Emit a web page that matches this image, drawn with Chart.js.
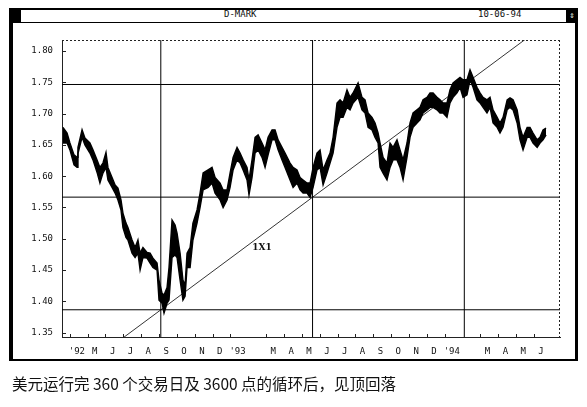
<!DOCTYPE html>
<html>
<head>
<meta charset="utf-8">
<script src="https://cdn.jsdelivr.net/npm/chart.js@4.4.1/dist/chart.umd.min.js"></script>
<style>
  body { margin: 0; background: #fff; width: 587px; height: 407px; position: relative; overflow: hidden; }
  .abs { position: absolute; }
  #frame { left: 9px; top: 8px; width: 569px; height: 353px; border: 2px solid #000; border-left-width: 4px; border-right-width: 3px; box-sizing: border-box; }
  #bar { left: 9px; top: 22px; width: 569px; height: 1px; background: #000; }
  .sq { top: 8px; width: 12px; height: 14px; background: #000; color: #fff; font: 9px "DejaVu Sans Mono"; text-align: center; line-height: 14px; }
  .ttl { top: 9px; font: 9px "DejaVu Sans Mono", monospace; color: #111; }
  #caption { left: 12px; top: 372px; font: 15.5px "Noto Sans CJK SC", sans-serif; color: #111; white-space: pre; }
  canvas { position: absolute; left: 0; top: 0; }
</style>
</head>
<body>
<div id="frame" class="abs"></div>
<div id="bar" class="abs"></div>
<div class="abs sq" style="left:9px"></div>
<div class="abs sq" style="left:566px">⇕</div>
<div class="abs ttl" style="left:224px">D-MARK</div>
<div class="abs ttl" style="left:478px">10-06-94</div>
<canvas id="chart" width="587" height="407"></canvas>
<div id="caption" class="abs">美元运行完 360 个交易日及 3600 点的循环后，见顶回落</div>
<script>
// month index, Jan 1992 = 0
const months = [2.62, 2.85, 3.01, 3.24, 3.41, 3.46, 3.69, 3.85, 4.13, 4.30, 4.53, 4.69, 4.86, 5.03, 5.14, 5.37, 5.54, 5.70, 5.87, 5.98,
  6.15, 6.26, 6.49, 6.66, 6.82, 6.94, 7.10, 7.33, 7.50, 7.66, 7.89, 8.00, 8.17, 8.28, 8.45, 8.56, 8.73, 8.90, 9.01, 9.18,
  9.34, 9.46, 9.57, 9.74, 9.90, 10.13, 10.30, 10.47, 10.75, 10.97, 11.14, 11.42, 11.59, 11.81, 11.98, 12.15, 12.37, 12.54, 12.71, 12.93,
  13.04, 13.21, 13.38, 13.55, 13.77, 13.94, 14.11, 14.33, 14.50, 14.67, 14.89, 15.06, 15.34, 15.51, 15.73, 15.90, 16.07, 16.29, 16.46, 16.63,
  16.85, 17.02, 17.19, 17.41, 17.58, 17.75, 17.97, 18.14, 18.31, 18.53, 18.70, 18.87, 19.15, 19.37, 19.54, 19.71, 19.93, 20.10, 20.27, 20.38,
  20.55, 20.77, 20.94, 21.11, 21.33, 21.50, 21.67, 21.89, 22.06, 22.23, 22.45, 22.62, 22.79, 23.01, 23.18, 23.35, 23.57, 23.74, 23.91, 24.13,
  24.30, 24.47, 24.69, 24.86, 25.03, 25.25, 25.42, 25.59, 25.81, 25.98, 26.15, 26.37, 26.54, 26.71, 26.94, 27.10, 27.27, 27.50, 27.66, 27.83,
  28.06, 28.22, 28.39, 28.62, 28.78, 28.95, 29.18, 29.34, 29.51, 29.68];
const highs = [1.678, 1.669, 1.653, 1.634, 1.630, 1.646, 1.674, 1.661, 1.653, 1.642, 1.626, 1.614, 1.621, 1.638, 1.614, 1.598, 1.586, 1.581, 1.562, 1.541,
  1.525, 1.518, 1.498, 1.486, 1.498, 1.477, 1.486, 1.478, 1.477, 1.469, 1.461, 1.434, 1.413, 1.410, 1.422, 1.454, 1.530, 1.522, 1.509, 1.477,
  1.434, 1.426, 1.477, 1.486, 1.525, 1.546, 1.573, 1.605, 1.610, 1.614, 1.598, 1.589, 1.578, 1.578, 1.605, 1.630, 1.646, 1.637, 1.626, 1.614,
  1.594, 1.626, 1.662, 1.666, 1.653, 1.642, 1.662, 1.674, 1.674, 1.658, 1.646, 1.637, 1.621, 1.614, 1.610, 1.598, 1.594, 1.589, 1.589, 1.614,
  1.637, 1.642, 1.610, 1.626, 1.637, 1.662, 1.717, 1.722, 1.717, 1.738, 1.726, 1.733, 1.749, 1.726, 1.722, 1.701, 1.694, 1.685, 1.669, 1.653,
  1.630, 1.621, 1.653, 1.646, 1.658, 1.642, 1.626, 1.653, 1.685, 1.701, 1.706, 1.710, 1.722, 1.726, 1.733, 1.733, 1.726, 1.722, 1.717, 1.717,
  1.738, 1.749, 1.754, 1.758, 1.754, 1.754, 1.770, 1.758, 1.742, 1.733, 1.726, 1.722, 1.726, 1.706, 1.694, 1.685, 1.694, 1.722, 1.725, 1.722,
  1.706, 1.678, 1.662, 1.678, 1.678, 1.669, 1.658, 1.662, 1.674, 1.677];
const lows = [1.653, 1.653, 1.642, 1.618, 1.614, 1.636, 1.662, 1.650, 1.637, 1.626, 1.606, 1.589, 1.605, 1.614, 1.594, 1.582, 1.573, 1.562, 1.546, 1.518,
  1.502, 1.498, 1.477, 1.470, 1.477, 1.450, 1.470, 1.469, 1.461, 1.454, 1.450, 1.402, 1.397, 1.381, 1.397, 1.402, 1.470, 1.474, 1.470, 1.434,
  1.402, 1.408, 1.454, 1.454, 1.498, 1.525, 1.550, 1.578, 1.582, 1.589, 1.573, 1.562, 1.550, 1.562, 1.582, 1.610, 1.626, 1.621, 1.610, 1.594,
  1.570, 1.598, 1.637, 1.642, 1.630, 1.614, 1.634, 1.658, 1.658, 1.642, 1.626, 1.614, 1.594, 1.582, 1.589, 1.578, 1.573, 1.573, 1.566, 1.582,
  1.610, 1.614, 1.586, 1.605, 1.621, 1.637, 1.678, 1.694, 1.694, 1.710, 1.706, 1.717, 1.726, 1.706, 1.701, 1.678, 1.674, 1.662, 1.653, 1.614,
  1.605, 1.594, 1.614, 1.626, 1.626, 1.614, 1.594, 1.630, 1.662, 1.678, 1.685, 1.690, 1.701, 1.706, 1.710, 1.710, 1.706, 1.701, 1.701, 1.694,
  1.717, 1.726, 1.733, 1.742, 1.726, 1.730, 1.754, 1.742, 1.722, 1.717, 1.710, 1.701, 1.710, 1.685, 1.678, 1.669, 1.678, 1.706, 1.710, 1.706,
  1.685, 1.658, 1.642, 1.662, 1.662, 1.653, 1.646, 1.653, 1.658, 1.666];

// Gann levels: 1.3865 low + 1800 / 3600 points, and the 180 / 360 trading day marks
const gannLevels = [1.3865, 1.5665, 1.7465];
const gannMonths = [8.1, 16.6, 25.1];
const oneByOne = [[2.57, 1.2693], [30.46, 1.8598]];

const yTicks = [1.35, 1.40, 1.45, 1.50, 1.55, 1.60, 1.65, 1.70, 1.75, 1.80];
const tickMonths = [3, 4, 5, 6, 7, 8, 9, 10, 11, 12, 14, 15, 16, 17, 18, 19, 20, 21, 22, 23, 24, 26, 27, 28, 29];
const tickLabels = ["'92", "M", "J", "J", "A", "S", "O", "N", "D", "'93", "M", "A", "M", "J", "J", "A", "S", "O", "N", "D", "'94", "M", "A", "M", "J"];

const X_MIN = 2.566, X_MAX = 30.46, Y_MIN = 1.343, Y_MAX = 1.8176;
const tickFont = { family: "DejaVu Sans Mono", size: 9 };

const datasets = [
  { data: months.map((m, i) => ({ x: m, y: highs[i] })), borderColor: "#000", borderWidth: 1.4, fill: false },
  { data: months.map((m, i) => ({ x: m, y: lows[i] })), borderColor: "#000", borderWidth: 1.4, fill: "-1", backgroundColor: "#000" },
];
gannLevels.forEach(v => datasets.push({ data: [{ x: X_MIN, y: v }, { x: X_MAX, y: v }], borderColor: "#000", borderWidth: 1 }));
gannMonths.forEach(m => datasets.push({ data: [{ x: m, y: Y_MIN }, { x: m, y: Y_MAX }], borderColor: "#000", borderWidth: 1 }));
datasets.push({ data: oneByOne.map(p => ({ x: p[0], y: p[1] })), borderColor: "#000", borderWidth: 0.8 });

const frame = {
  id: "frame",
  afterDraw(chart) {
    const { ctx, chartArea: a, scales } = chart;
    ctx.save();
    ctx.strokeStyle = "#222";
    ctx.lineWidth = 1;
    ctx.setLineDash([2, 2]);
    ctx.beginPath();
    ctx.moveTo(a.left, a.top + 0.5); ctx.lineTo(a.right, a.top + 0.5);
    ctx.moveTo(a.right - 0.5, a.top); ctx.lineTo(a.right - 0.5, a.bottom);
    ctx.stroke();
    ctx.setLineDash([]);
    ctx.beginPath();
    scales.y.ticks.forEach(t => {
      const y = Math.round(scales.y.getPixelForValue(t.value)) + 0.5;
      ctx.moveTo(a.left, y); ctx.lineTo(a.left + 4, y);
    });
    tickMonths.forEach(m => {
      const x = Math.round(scales.x.getPixelForValue(m)) + 0.5;
      ctx.moveTo(x, a.bottom); ctx.lineTo(x, a.bottom - 3);
    });
    ctx.stroke();
    ctx.fillStyle = "#111";
    ctx.font = "bold 9px 'DejaVu Serif'";
    ctx.textAlign = "center";
    ctx.textBaseline = "middle";
    ctx.fillText("1X1", scales.x.getPixelForValue(13.77), scales.y.getPixelForValue(1.485));
    ctx.restore();
  }
};

new Chart(document.getElementById("chart"), {
  type: "line",
  data: { datasets: datasets },
  options: {
    responsive: false,
    animation: false,
    events: [],
    elements: { point: { radius: 0 }, line: { tension: 0 } },
    layout: { padding: { left: 0, right: 27, top: 40, bottom: 50 } },
    plugins: { legend: { display: false }, tooltip: { enabled: false } },
    scales: {
      x: {
        type: "linear", min: X_MIN, max: X_MAX,
        grid: { display: false },
        border: { display: true, color: "#222", dash: [2, 2] },
        afterBuildTicks: s => { s.ticks = tickMonths.map(m => ({ value: m + 0.4 })); },
        afterFit: s => { s.height = 20; },
        ticks: { autoSkip: false, maxRotation: 0, padding: 1, color: "#111", font: tickFont,
          callback: (v, i) => tickLabels[i] }
      },
      y: {
        min: Y_MIN, max: Y_MAX,
        grid: { display: false },
        border: { display: true, color: "#222", dash: [2, 2] },
        afterBuildTicks: s => { s.ticks = yTicks.map(v => ({ value: v })); },
        afterFit: s => { s.width = 62; },
        ticks: { padding: 1, color: "#111", font: tickFont, callback: v => v.toFixed(2) }
      }
    }
  },
  plugins: [frame]
});
</script>
</body>
</html>
